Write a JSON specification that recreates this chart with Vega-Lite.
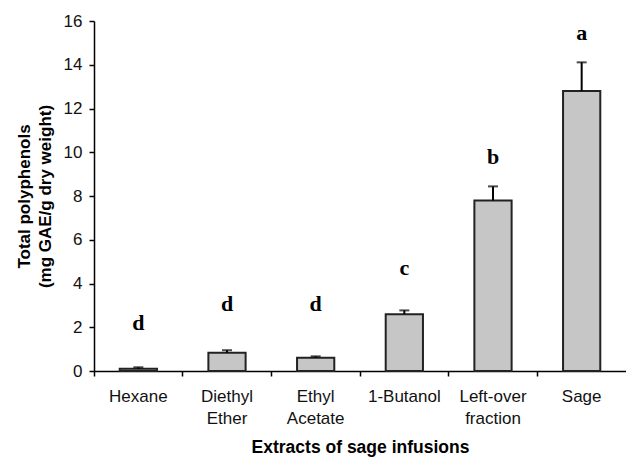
{
  "$schema": "https://vega.github.io/schema/vega-lite/v6.json",
  "autosize": {"type": "none"},
  "padding": {"left": 94, "top": 21, "right": 0, "bottom": 86},
  "width": 532,
  "height": 350,
  "background": "white",
  "config": {"view": {"stroke": null}, "font": "Liberation Sans"},
  "data": {"values": [
    {"extract": "Hexane", "mean": 0.1, "upper": 0.17, "letter": "d", "letter_y": 2.2},
    {"extract": "Diethyl\nEther", "mean": 0.84, "upper": 0.95, "letter": "d", "letter_y": 3.05},
    {"extract": "Ethyl\nAcetate", "mean": 0.61, "upper": 0.67, "letter": "d", "letter_y": 3.05},
    {"extract": "1-Butanol", "mean": 2.6, "upper": 2.77, "letter": "c", "letter_y": 4.7},
    {"extract": "Left-over\nfraction", "mean": 7.8, "upper": 8.44, "letter": "b", "letter_y": 9.8},
    {"extract": "Sage", "mean": 12.8, "upper": 14.11, "letter": "a", "letter_y": 15.45}
  ]},
  "encoding": {
    "x": {
      "field": "extract", "type": "nominal", "sort": null,
      "scale": {"paddingInner": 0, "paddingOuter": 0},
      "axis": {
        "title": "Extracts of sage infusions",
        "titleFont": "Liberation Sans", "titleFontSize": 17.5, "titleFontWeight": "bold", "titleColor": "black",
        "titlePadding": 12,
        "labelExpr": "split(datum.value, '\\n')",
        "labelAngle": 0, "labelFont": "Liberation Sans", "labelFontSize": 17, "labelColor": "#111",
        "labelLineHeight": 22, "labelPadding": 12,
        "bandPosition": 0, "tickSize": 5, "tickColor": "black", "tickWidth": 1.5,
        "domainColor": "black", "domainWidth": 1.5, "grid": false
      }
    }
  },
  "layer": [
    {
      "mark": {"type": "bar", "fill": "#c6c6c6", "stroke": "#222", "strokeWidth": 2, "width": {"band": 0.42}},
      "encoding": {
        "y": {
          "field": "mean", "type": "quantitative",
          "scale": {"domain": [0, 16], "nice": false},
          "axis": {
            "title": ["Total polyphenols", "(mg GAE/g dry weight)"],
            "titleFont": "Liberation Sans", "titleFontSize": 17, "titleFontWeight": "bold", "titleColor": "black",
            "titleLineHeight": 21, "titlePadding": 9,
            "values": [0, 2, 4, 6, 8, 10, 12, 14, 16],
            "labelFont": "Liberation Sans", "labelFontSize": 17, "labelColor": "#111", "labelPadding": 7,
            "tickSize": 5, "tickColor": "black", "tickWidth": 1.5,
            "domainColor": "black", "domainWidth": 1.5, "grid": false
          }
        }
      }
    },
    {
      "mark": {"type": "rule", "color": "black", "strokeWidth": 2},
      "encoding": {
        "y": {"field": "mean", "type": "quantitative"},
        "y2": {"field": "upper"}
      }
    },
    {
      "mark": {"type": "tick", "color": "black", "thickness": 2, "size": 10},
      "encoding": {"y": {"field": "upper", "type": "quantitative"}}
    },
    {
      "mark": {"type": "text", "font": "Liberation Serif", "fontWeight": "bold", "fontSize": 22, "color": "black", "baseline": "middle"},
      "encoding": {
        "y": {"field": "letter_y", "type": "quantitative"},
        "text": {"field": "letter"}
      }
    }
  ]
}
